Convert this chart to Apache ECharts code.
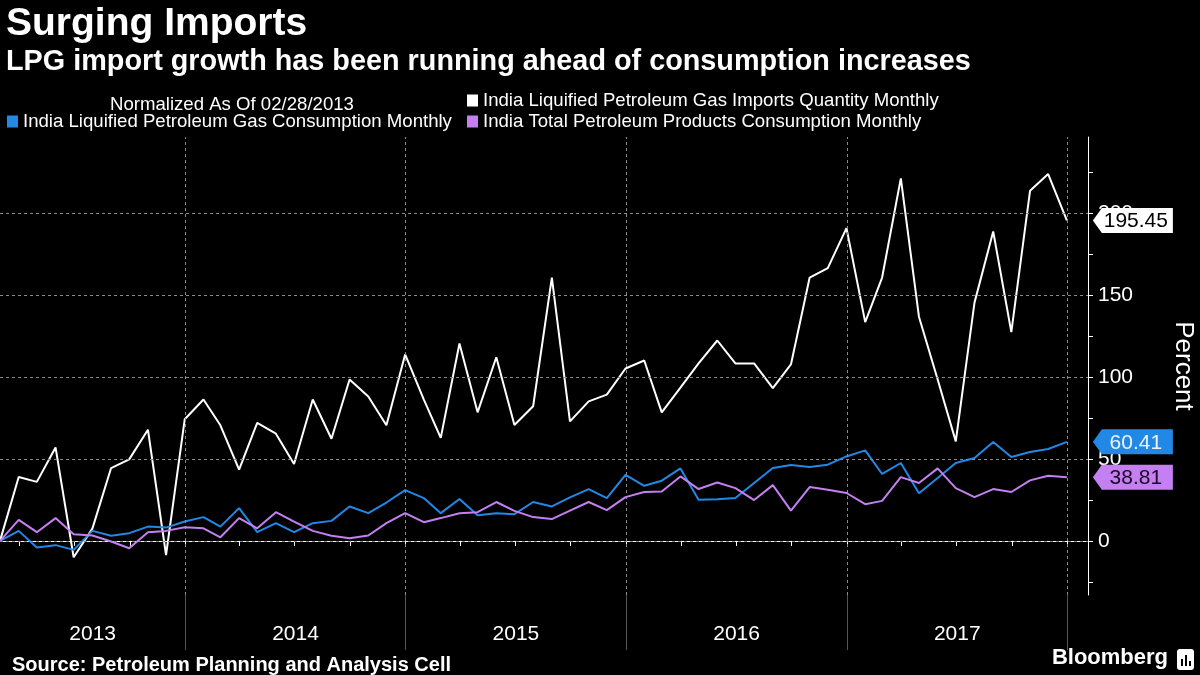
<!DOCTYPE html>
<html><head><meta charset="utf-8">
<script src="https://cdn.jsdelivr.net/npm/echarts@6/dist/echarts.min.js"></script>
<style>html,body{margin:0;padding:0;background:#000}#c{width:1200px;height:675px}</style>
</head><body><div id="c"></div>
<script>
// ---- data ----
const months = [
 '2013-02','2013-03','2013-04','2013-05','2013-06','2013-07','2013-08','2013-09','2013-10','2013-11','2013-12',
 '2014-01','2014-02','2014-03','2014-04','2014-05','2014-06','2014-07','2014-08','2014-09','2014-10','2014-11','2014-12',
 '2015-01','2015-02','2015-03','2015-04','2015-05','2015-06','2015-07','2015-08','2015-09','2015-10','2015-11','2015-12',
 '2016-01','2016-02','2016-03','2016-04','2016-05','2016-06','2016-07','2016-08','2016-09','2016-10','2016-11','2016-12',
 '2017-01','2017-02','2017-03','2017-04','2017-05','2017-06','2017-07','2017-08','2017-09','2017-10','2017-11','2017-12'
];
const lpgImports = [
 0, 39, 36, 57, -10, 7.5, 44.4, 49.7, 67.8, -8.6, 74.2,
 86.2, 70.5, 43.4, 71.9, 65.4, 46.9, 86.2, 62.3, 98.4, 88, 70.5, 113.7,
 86.2, 62.8, 120.4, 78.4, 112, 70.7, 82.1, 160.6, 72.9, 85.1, 89.2, 105.1,
 110, 78.4, 93.5, 108.2, 122.2, 108.2, 108.2, 93.1, 107.6, 160.6, 166.3, 190.7,
 133.4, 160.6, 221.1, 136.7, 98.4, 60.7, 145.3, 188.7, 127.3, 213.5, 223.7, 195.45
];
const lpgConsumption = [
 0, 6.1, -4.1, -2.6, -5.5, 6.1, 3.1, 4.7, 8.7, 8.1, 11.8,
 14.5, 8.7, 20, 5.3, 10.8, 5.3, 10.8, 12.2, 21, 16.9, 23.4, 31,
 26.1, 16.9, 25.5, 15.7, 16.9, 16.3, 23.7, 21, 26.5, 31.6, 26.1, 40.3,
 33.6, 36.7, 44.2, 25.1, 25.4, 26.1, 35.3, 44.4, 46.3, 45, 46.5, 51.5,
 55.2, 40.8, 47.5, 29.1, 38.3, 47.5, 50.5, 60.3, 51.2, 54.2, 56, 60.41
];
const totalConsumption = [
 0, 12.8, 5.3, 13.9, 4.1, 3.3, -0.4, -4.5, 5.3, 6.1, 8.3,
 7.7, 2.2, 13.9, 7.7, 17.5, 11.8, 6.1, 3.1, 1.6, 3.3, 10.8, 16.9,
 11.4, 13.9, 16.9, 17.5, 23.7, 18.3, 14.5, 13.3, 18.5, 23.7, 18.8, 26.7,
 29.8, 30.1, 39.3, 31.6, 35.6, 32.2, 24.9, 34, 18.5, 32.8, 31.2, 29.2,
 22.4, 24.4, 38.9, 35.3, 44.2, 32.2, 26.7, 31.6, 29.8, 36.9, 39.7, 38.81
];
const yearLabels = ['2013','2014','2015','2016','2017'];
const yTickLabels = [0, 50, 100, 150, 200];
const yMinorTicks = [-25, 0, 25, 50, 75, 100, 125, 150, 175, 200, 225];
const seriesNames = [
 'India Liquified Petroleum Gas Imports Quantity Monthly',
 'India Liquified Petroleum Gas Consumption Monthly',
 'India Total Petroleum Products Consumption Monthly'
];

// ---- helpers ----
function monthEnd(s){ const p = s.split('-').map(Number); return Date.UTC(p[0], p[1], 0); }
const xs = months.map(monthEnd);
const pairs = arr => arr.map((v,i) => [xs[i], v]);
const xMin = Date.UTC(2013,1,28);
const xMax = Date.UTC(2018,1,4);
const yearBounds = yearLabels.map(y => Date.UTC(+y + 1, 0, 1));
const yearMids = yearLabels.map((y,i) => {
  const a = Math.max(Date.UTC(+y,0,1), xMin), b = yearBounds[i];
  return (a + b) / 2;
});
const quarterTicks = [];
yearLabels.forEach(y => { [3,6,9].forEach(m => { const t = Date.UTC(+y, m, 1); if (t > xMin) quarterTicks.push(t); }); quarterTicks.push(Date.UTC(+y+1,0,1)); });

const FONT = 'Liberation Sans';
const WHITE = '#ffffff', BLUE = '#2188e6', PURPLE = '#c47ff0';

function badge(arr, color, textColor){
  const last = arr[arr.length-1];
  return {
    silent: true,
    symbol: 'path://M0,12.5 L9,0 L80,0 L80,25 L9,25 Z',
    symbolSize: [80, 25],
    symbolOffset: [66, 0],
    itemStyle: { color: color },
    label: { show: true, position: 'inside', offset: [3, 1], color: textColor, fontFamily: FONT, fontSize: 21,
      formatter: p => p.value.toFixed(2) },
    data: [{ coord: [xs[xs.length-1], last], value: last }]
  };
}

const chart = echarts.init(document.getElementById('c'), null, { renderer: 'canvas' });
chart.setOption({
  backgroundColor: '#000',
  animation: false,
  textStyle: { fontFamily: FONT },
  title: [
    { text: 'Surging Imports', left: 1, top: 0, textStyle: { color: WHITE, fontSize: 39, fontWeight: 'bold', fontFamily: FONT } },
    { text: 'LPG import growth has been running ahead of consumption increases', left: 1, top: 43,
      textStyle: { color: WHITE, fontSize: 28.8, fontWeight: 'bold', fontFamily: FONT } },
    { text: 'Normalized As Of 02/28/2013', left: 105, top: 90, textStyle: { color: WHITE, fontSize: 18.6, fontWeight: 'normal', fontFamily: FONT } },
    { text: 'Source: Petroleum Planning and Analysis Cell', left: 7, top: 650,
      textStyle: { color: WHITE, fontSize: 20, fontWeight: 'bold', fontFamily: FONT } }
  ],
  legend: [
    { data: [seriesNames[0]], left: 467, top: 91 },
    { data: [seriesNames[1]], left: 7, top: 112 },
    { data: [seriesNames[2]], left: 467, top: 112 }
  ].map(l => Object.assign(l, { icon: 'rect', itemWidth: 11, itemHeight: 12, padding: 0, selectedMode: false,
      textStyle: { color: WHITE, fontSize: 18.6, fontFamily: FONT } })),
  grid: { left: 0, right: 112, top: 137, bottom: 80, outerBoundsMode: 'none', containLabel: false },
  xAxis: [
    { type: 'value', min: xMin, max: xMax,
      axisLine: { show: true, lineStyle: { color: WHITE, width: 1 } },
      axisTick: { show: true, customValues: quarterTicks, length: 5, lineStyle: { color: WHITE } },
      axisLabel: { show: true, customValues: yearMids, color: WHITE, fontSize: 21, margin: 29, fontFamily: FONT,
        formatter: v => String(new Date(v).getUTCFullYear()) },
      splitLine: { show: false } },
    { type: 'value', min: xMin, max: xMax, position: 'bottom',
      axisLine: { show: false },
      axisTick: { show: true, customValues: yearBounds, length: 55, lineStyle: { color: '#555' } },
      axisLabel: { show: false },
      splitLine: { show: false } }
  ],
  yAxis: {
    type: 'value', position: 'right', min: -33, max: 246.3,
    axisLine: { show: true, lineStyle: { color: WHITE } },
    axisTick: { show: true, customValues: yMinorTicks, length: 5, lineStyle: { color: WHITE } },
    axisLabel: { show: true, customValues: yTickLabels, color: WHITE, fontSize: 21, margin: 10, fontFamily: FONT },
    splitLine: { show: false },
    name: 'Percent', nameLocation: 'middle', nameRotate: -90, nameGap: 82,
    nameTextStyle: { color: WHITE, fontSize: 26, fontFamily: FONT }
  },
  series: [
    { name: 'grid', type: 'line', data: [], z: 1, silent: true,
      markLine: { silent: true, symbol: 'none', label: { show: false },
        lineStyle: { color: '#8a8a8a', type: [3, 3], width: 1 },
        data: yTickLabels.map(v => ({ yAxis: v })).concat(yearBounds.map(t => ({ xAxis: t }))) } },
    { name: seriesNames[0], type: 'line', data: pairs(lpgImports), showSymbol: false, symbol: 'none', z: 3,
      itemStyle: { color: WHITE }, lineStyle: { color: WHITE, width: 2 },
      markPoint: badge(lpgImports, WHITE, '#000') },
    { name: seriesNames[1], type: 'line', data: pairs(lpgConsumption), showSymbol: false, symbol: 'none', z: 4,
      itemStyle: { color: BLUE }, lineStyle: { color: BLUE, width: 2 },
      markPoint: badge(lpgConsumption, BLUE, '#eef4ff') },
    { name: seriesNames[2], type: 'line', data: pairs(totalConsumption), showSymbol: false, symbol: 'none', z: 5,
      itemStyle: { color: PURPLE }, lineStyle: { color: PURPLE, width: 2 },
      markPoint: badge(totalConsumption, PURPLE, '#1a0826') }
  ],
  graphic: [
    { type: 'text', right: 32, top: 647, style: { text: 'Bloomberg', fill: WHITE, font: 'bold 22px "Liberation Sans"' } },
    { type: 'group', right: 6, top: 649, children: [
      { type: 'rect', shape: { x: 0, y: 0, width: 17, height: 21, r: 3 }, style: { fill: WHITE } },
      { type: 'rect', shape: { x: 4, y: 10, width: 2, height: 7 }, style: { fill: '#000' } },
      { type: 'rect', shape: { x: 8, y: 6, width: 2, height: 11 }, style: { fill: '#000' } },
      { type: 'rect', shape: { x: 12, y: 12, width: 2, height: 5 }, style: { fill: '#000' } }
    ] }
  ]
});
</script>
</body></html>
